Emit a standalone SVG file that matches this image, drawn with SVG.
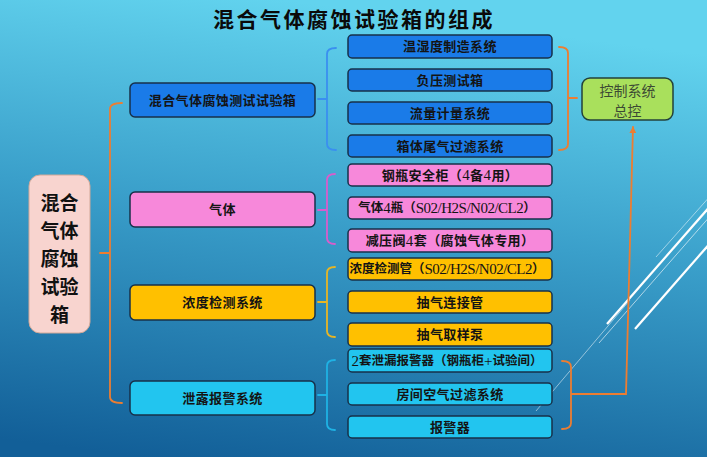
<svg xmlns="http://www.w3.org/2000/svg" width="707" height="457" viewBox="0 0 707 457">
<defs>
<linearGradient id="bg" x1="0.4" y1="0" x2="0.2" y2="1">
<stop offset="0" stop-color="#62d3ee"/>
<stop offset="0.45" stop-color="#3a9fca"/>
<stop offset="1" stop-color="#125f98"/>
</linearGradient>
<marker id="arr" viewBox="0 0 10 10" refX="9" refY="5" markerWidth="7" markerHeight="7" orient="auto" markerUnits="userSpaceOnUse">
<path d="M0 0 L10 5 L0 10 Z" fill="#ed7d31"/>
</marker>
<style>
.box{stroke:#17304a;stroke-width:1.5}
.blue{fill:#1a7be8}
.pink{fill:#f788da}
.yel{fill:#ffc000}
.cyan{fill:#22c5ef}
.t{font-family:"Liberation Serif","Noto Sans CJK SC",serif;font-weight:700;font-size:13px;fill:#141414;text-anchor:middle;dominant-baseline:central;letter-spacing:0.4px}
.w{font-size:12.5px;letter-spacing:0}
.lat{font-weight:400;font-size:15px}
.nar{letter-spacing:-0.5px}
.br{fill:none;stroke-width:1.8;stroke-linecap:round}
.deco{stroke:#ffffff;fill:none}
</style>
</defs>
<rect x="0" y="0" width="707" height="457" fill="url(#bg)"/>
<g id="decoration">
<line class="deco" x1="607" y1="324" x2="712" y2="204" stroke-width="2.2"/>
<line class="deco" x1="599" y1="343" x2="712" y2="214" stroke-width="1" stroke-opacity="0.6"/>
<line class="deco" x1="656" y1="257" x2="712" y2="194" stroke-width="1" stroke-opacity="0.5"/>
<line class="deco" x1="635" y1="329" x2="712" y2="241" stroke-width="2.2"/>
<line class="deco" x1="536" y1="411" x2="630" y2="300" stroke-width="1" stroke-opacity="0.5"/>
</g>
<text x="354" y="18" font-family="'Noto Sans CJK SC',sans-serif" font-weight="700" font-size="21" fill="#0a0a0a" text-anchor="middle" dominant-baseline="central" letter-spacing="2.5">混合气体腐蚀试验箱的组成</text>
<g id="connectors">
<path class="br" stroke="#ed7d31" d="M122 103 Q110 103 110 109 V397 Q110 403 122 403 M100 253 H110"/>
<path class="br" stroke="#3a8ff0" d="M336 48 Q327 48 327 54 V144 Q327 150 336 150 M318 99 H327"/>
<path class="br" stroke="#d85dcc" d="M335 174 Q327 174 327 180 V238 Q327 244 335 244 M318 210 H327"/>
<path class="br" stroke="#e8b524" d="M335 267 Q327 267 327 273 V331 Q327 337 335 337 M318 302 H327"/>
<path class="br" stroke="#1fb2e4" d="M335 360 Q327 360 327 366 V424 Q327 430 335 430 M318 395 H327"/>
<path class="br" stroke="#ed7d31" d="M559 47 Q568 47 568 53 V144 Q568 150 559 150 M568 98 H577"/>
<path class="br" stroke="#ed7d31" d="M562 361 Q571 361 571 367 V423 Q571 429 562 429 M571 394 H626 L633 127" marker-end="url(#arr)"/>
</g>
<g id="root">
<rect x="29" y="175" width="61" height="158" rx="11" fill="#f8d4cf" stroke="#d2a898" stroke-width="1"/>
<g font-family="'Noto Sans CJK SC',sans-serif" font-weight="700" font-size="19" fill="#111" text-anchor="middle" dominant-baseline="central">
<text x="59.5" y="201">混合</text>
<text x="59.5" y="229">气体</text>
<text x="59.5" y="257">腐蚀</text>
<text x="59.5" y="285">试验</text>
<text x="59.5" y="313">箱</text>
</g>
</g>
<g id="n-box">
<rect class="box blue" x="130" y="83" width="185" height="34" rx="5"/>
<text class="t" x="222.5" y="100">混合气体腐蚀测试试验箱</text>
</g>
<g id="n-gas">
<rect class="box pink" x="130" y="192" width="185" height="35" rx="5"/>
<text class="t" x="222.5" y="209.5">气体</text>
</g>
<g id="n-conc">
<rect class="box yel" x="130" y="285" width="185" height="35" rx="5"/>
<text class="t" x="222.5" y="302.5">浓度检测系统</text>
</g>
<g id="n-leak">
<rect class="box cyan" x="130" y="381" width="185" height="34" rx="5"/>
<text class="t" x="222.5" y="398">泄露报警系统</text>
</g>
<g id="n-1">
<rect class="box blue" x="348" y="35" width="204" height="23" rx="4"/>
<text class="t" x="450" y="46.5">温湿度制造系统</text>
</g>
<g id="n-2">
<rect class="box blue" x="348" y="69" width="204" height="22" rx="4"/>
<text class="t" x="450" y="80">负压测试箱</text>
</g>
<g id="n-3">
<rect class="box blue" x="348" y="102" width="204" height="22" rx="4"/>
<text class="t" x="450" y="113">流量计量系统</text>
</g>
<g id="n-4">
<rect class="box blue" x="348" y="135" width="204" height="22" rx="4"/>
<text class="t" x="450" y="146">箱体尾气过滤系统</text>
</g>
<g id="n-5">
<rect class="box pink" x="348" y="164" width="204" height="22" rx="4"/>
<text class="t" x="450" y="175">钢瓶安全柜（<tspan class="lat">4</tspan>备<tspan class="lat">4</tspan>用）</text>
</g>
<g id="n-6">
<rect class="box pink" x="348" y="197" width="204" height="22" rx="4"/>
<text class="t w" x="447" y="208">气体<tspan class="lat">4</tspan>瓶（<tspan class="lat nar">S02/H2S/N02/CL2</tspan>）</text>
</g>
<g id="n-7">
<rect class="box pink" x="348" y="229" width="204" height="23" rx="4"/>
<text class="t" x="450" y="240.5">减压阀<tspan class="lat">4</tspan>套（腐蚀气体专用）</text>
</g>
<g id="n-8">
<rect class="box yel" x="348" y="258" width="204" height="22" rx="4"/>
<text class="t w" x="447" y="269">浓度检测管（<tspan class="lat nar">S02/H2S/N02/CL2</tspan>）</text>
</g>
<g id="n-9">
<rect class="box yel" x="348" y="291" width="204" height="22" rx="4"/>
<text class="t" x="450" y="302">抽气连接管</text>
</g>
<g id="n-10">
<rect class="box yel" x="348" y="323" width="204" height="23" rx="4"/>
<text class="t" x="450" y="334.5">抽气取样泵</text>
</g>
<g id="n-11">
<rect class="box cyan" x="348" y="349" width="204" height="23" rx="4"/>
<text class="t w" x="447" y="360.5"><tspan class="lat" font-size="17">2</tspan>套泄漏报警器（钢瓶柜<tspan class="lat">+</tspan>试验间）</text>
</g>
<g id="n-12">
<rect class="box cyan" x="348" y="383" width="204" height="22" rx="4"/>
<text class="t" x="450" y="394">房间空气过滤系统</text>
</g>
<g id="n-13">
<rect class="box cyan" x="348" y="416" width="204" height="22" rx="4"/>
<text class="t" x="450" y="427">报警器</text>
</g>
<g id="n-ctrl">
<rect x="582" y="78" width="91" height="42" rx="8" fill="#a9e05c" stroke="#23413a" stroke-width="1.5"/>
<g font-family="'Noto Sans CJK SC',sans-serif" font-size="14" fill="#3c4a34" text-anchor="middle" dominant-baseline="central">
<text x="627.5" y="90">控制系统</text>
<text x="627.5" y="110">总控</text>
</g>
</g>
</svg>
